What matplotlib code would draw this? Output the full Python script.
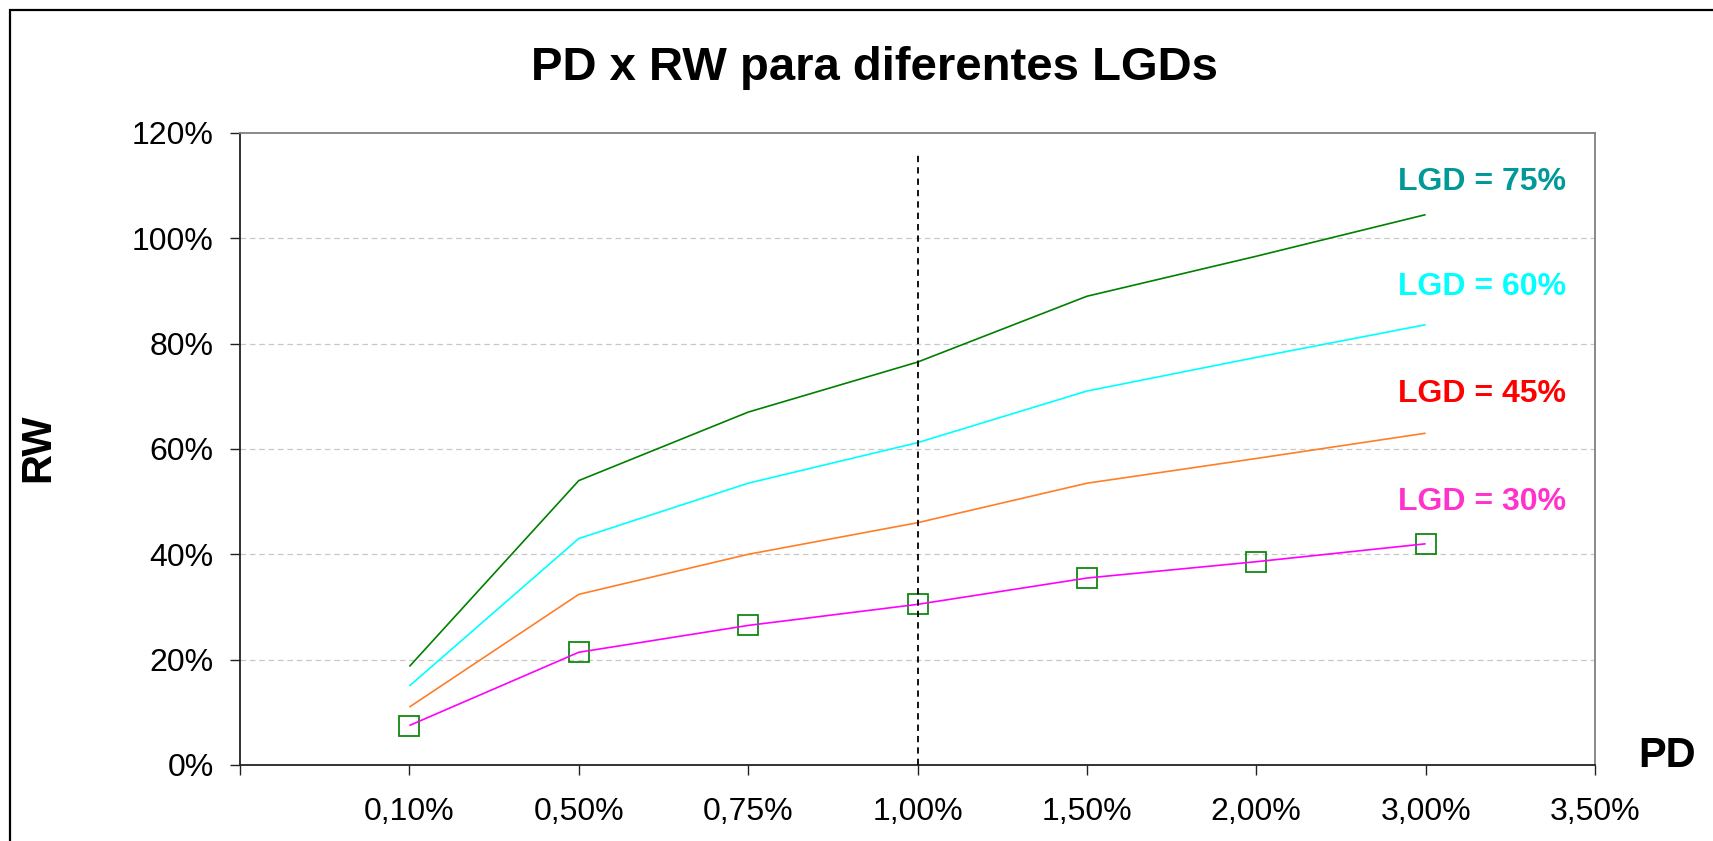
import matplotlib
matplotlib.use("Agg")
import matplotlib.pyplot as plt
from matplotlib.patches import Rectangle

plt.rcParams['font.family'] = ['Liberation Sans', 'DejaVu Sans']

# ---- data ----
pd_labels = ["0,10%", "0,50%", "0,75%", "1,00%", "1,50%", "2,00%", "3,00%", "3,50%"]
pd_pos = [1, 2, 3, 4, 5, 6, 7]
rw_lgd75 = [18.7, 54.0, 67.0, 76.5, 89.0, 96.6, 104.5]
rw_lgd60 = [15.0, 43.0, 53.5, 61.2, 71.0, 77.4, 83.6]
rw_lgd45 = [11.0, 32.4, 40.0, 46.0, 53.5, 58.2, 63.0]
rw_lgd30 = [7.5, 21.4, 26.5, 30.5, 35.5, 38.6, 42.0]
y_ticks = [0, 20, 40, 60, 80, 100, 120]
series_labels = ["LGD = 75%", "LGD = 60%", "LGD = 45%", "LGD = 30%"]
label_y = [110.7, 90.8, 70.5, 50.0]
ref_pd = 4  # position of 1,00%

W, H = 1713, 841
fig = plt.figure(figsize=(W / 100, H / 100), dpi=100)
ax = fig.add_axes([240 / W, (H - 765) / H, (1595 - 240) / W, (765 - 133) / H])

line_colors = ["#008000", "#00FFFF", "#FF7F27", "#FF00FF"]
text_colors = ["#009999", "#00FFFF", "#FF0000", "#FF33CC"]
series = [rw_lgd75, rw_lgd60, rw_lgd45, rw_lgd30]

for s, c in zip(series, line_colors):
    ax.plot(pd_pos, s, color=c, lw=1.2, zorder=4, solid_capstyle='butt')

ax.plot(pd_pos, rw_lgd30, linestyle='none', marker='s', markersize=14.5,
        markerfacecolor='none', markeredgecolor='#118811', markeredgewidth=1.3, zorder=3)

# vertical reference line at PD = 1,00%
ax.plot([ref_pd, ref_pd], [0, 116.6], color='black', lw=1.3, dashes=(3.5, 2.8), zorder=5)

for t, c, y in zip(series_labels, text_colors, label_y):
    ax.text(7.83, y, t, color=c, fontsize=23, fontweight='bold', ha='right', va='center')

ax.set_xlim(0, 8)
ax.set_ylim(0, 120)
ax.set_xticks(range(0, 9))
ax.set_xticklabels([""] + pd_labels, fontsize=23)
ax.set_yticks(y_ticks)
ax.set_yticklabels([f"{v}%" for v in y_ticks], fontsize=23)
ax.tick_params(axis='x', direction='out', length=7, width=1, pad=16, color='#222222')
ax.tick_params(axis='y', direction='out', length=7, width=1, pad=12, color='#222222')

for v in y_ticks[1:-1]:
    ax.axhline(v, color='#C8C8C8', lw=0.9, dashes=(4.5, 3.0), zorder=1)

for side in ['left', 'bottom']:
    ax.spines[side].set_color('#222222')
    ax.spines[side].set_linewidth(1.3)
for side in ['top', 'right']:
    ax.spines[side].set_color('#808080')
    ax.spines[side].set_linewidth(1.3)

fig.text(874 / W, 1 - 68 / H, "PD x RW para diferentes LGDs", fontsize=34,
         fontweight='bold', ha='center', va='center')
fig.text(38 / W, 1 - 448 / H, "RW", fontsize=30, fontweight='bold', rotation=90,
         ha='center', va='center')
fig.text(1667 / W, 1 - 756 / H, "PD", fontsize=30, fontweight='bold',
         ha='center', va='center')

fig.patches.append(Rectangle((10 / W, -0.1), 2, 1.1 - 10 / H, transform=fig.transFigure,
                             fill=False, edgecolor='black', lw=1.6))

fig.savefig("out.png", dpi=100)
